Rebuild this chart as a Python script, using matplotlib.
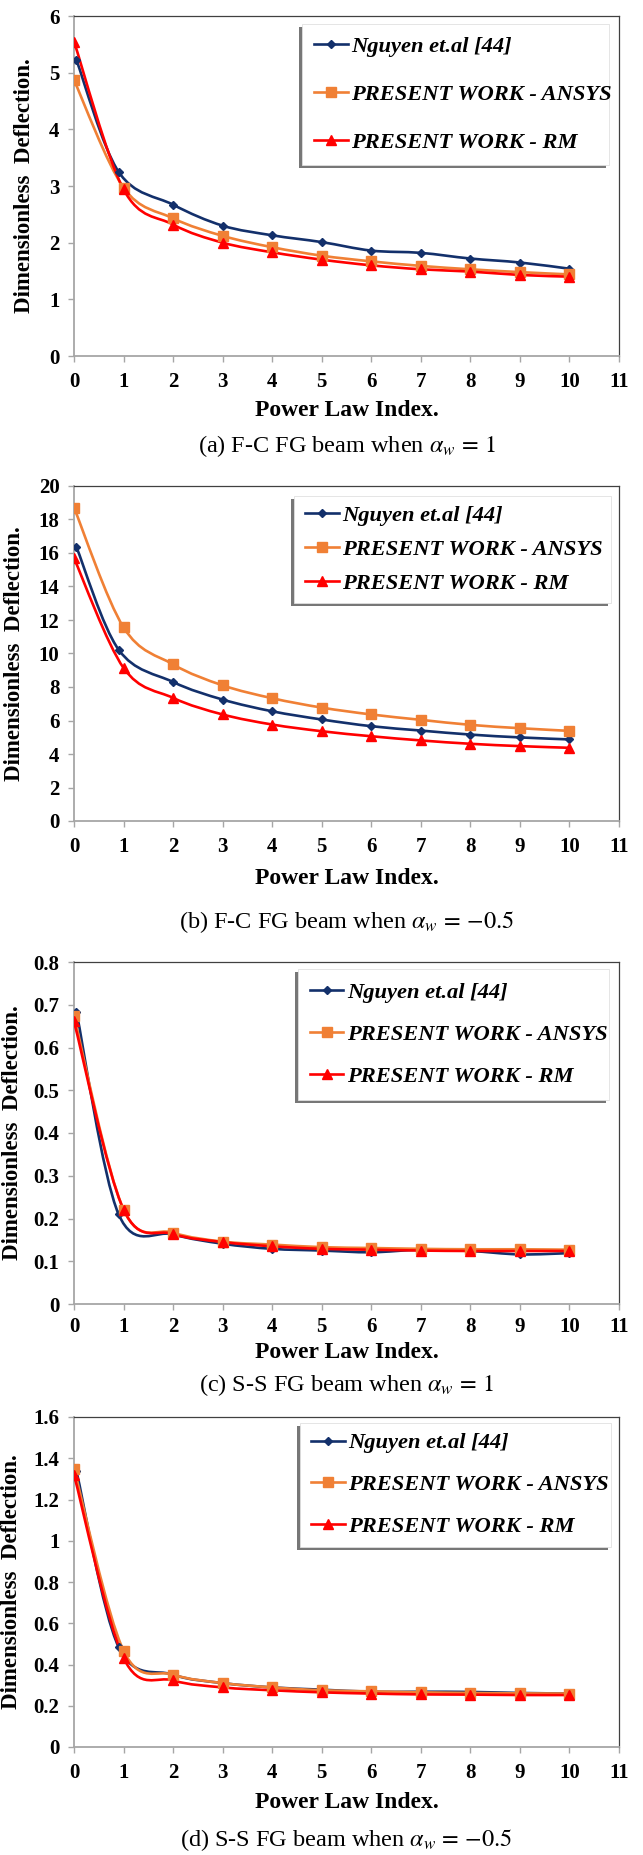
import numpy as np
import matplotlib
matplotlib.use("Agg")
import matplotlib.pyplot as plt
from matplotlib.path import Path
from matplotlib.patches import PathPatch, Rectangle
from matplotlib.lines import Line2D
from matplotlib.transforms import ScaledTranslation

# power law index
p = [0, 1, 2, 3, 4, 5, 6, 7, 8, 9, 10]
p_nguyen = [0.05, 0.9, 2, 3, 4, 5, 6, 7, 8, 9, 10]

# (a) F-C, alpha_w = 1
a_nguyen = [5.22, 3.25, 2.67, 2.30, 2.13, 2.01, 1.86, 1.82, 1.72, 1.65, 1.54]
a_ansys = [4.87, 2.97, 2.43, 2.12, 1.92, 1.77, 1.67, 1.59, 1.53, 1.48, 1.44]
a_rm = [5.55, 2.94, 2.32, 2.00, 1.83, 1.70, 1.60, 1.53, 1.49, 1.43, 1.40]

# (b) F-C, alpha_w = -0.5
b_nguyen = [16.35, 10.23, 8.30, 7.25, 6.55, 6.06, 5.66, 5.40, 5.16, 4.99, 4.87]
b_ansys = [18.71, 11.56, 9.35, 8.10, 7.33, 6.77, 6.36, 6.04, 5.74, 5.54, 5.38]
b_rm = [15.69, 9.14, 7.35, 6.36, 5.76, 5.36, 5.06, 4.81, 4.61, 4.47, 4.37]

# (c) S-S, alpha_w = 1
c_nguyen = [0.683, 0.210, 0.163, 0.141, 0.129, 0.125, 0.121, 0.127, 0.124, 0.116, 0.119]
c_ansys = [0.673, 0.221, 0.167, 0.146, 0.139, 0.133, 0.131, 0.129, 0.128, 0.128, 0.127]
c_rm = [0.661, 0.221, 0.164, 0.145, 0.135, 0.129, 0.127, 0.125, 0.124, 0.124, 0.124]

# (d) S-S, alpha_w = -0.5
d_nguyen = [1.337, 0.485, 0.351, 0.310, 0.289, 0.278, 0.268, 0.268, 0.267, 0.262, 0.259]
d_ansys = [1.350, 0.467, 0.351, 0.310, 0.289, 0.275, 0.270, 0.265, 0.262, 0.260, 0.259]
d_rm = [1.320, 0.432, 0.323, 0.289, 0.275, 0.265, 0.259, 0.255, 0.254, 0.252, 0.252]

labels = ["Nguyen et.al [44]", "PRESENT WORK - ANSYS", "PRESENT WORK - RM"]
captions = [r"(a) F-C FG beam when $\alpha_w\,=\,1$",
            r"(b) F-C FG beam when $\alpha_w\,=\,{-}0.5$",
            r"(c) S-S FG beam when $\alpha_w\,=\,1$",
            r"(d) S-S FG beam when $\alpha_w\,=\,{-}0.5$"]
ymaxs = [6, 20, 0.8, 1.6]
ysteps = [1, 2, 0.1, 0.2]
ytick_fmt = ["{:.0f}", "{:.0f}", "{:g}", "{:g}"]

NAVY = "#13306B"
ORANGE = "#F08035"
RED = "#FF0000"

plt.rcParams["font.family"] = ["Liberation Serif", "DejaVu Serif"]
plt.rcParams["mathtext.fontset"] = "stix"

W, H = 643, 1855
fig = plt.figure(figsize=(W / 100, H / 100), dpi=100)

# pixel layout (top, bottom of axes, xlabel y, caption y, legend box)
tops = [16, 486, 962, 1417]
bottoms = [356, 821, 1304, 1747]
xlab_y = [411, 878, 1353, 1802]
cap_y = [446, 922, 1385, 1840]
xpad = [7, 7, 5, 7]
leg_box = [(0.419, 0.562, 0.981, 0.976),
           (0.403, 0.650, 0.986, 0.970),
           (0.411, 0.597, 0.981, 0.980),
           (0.414, 0.606, 0.985, 0.982)]
leg_space = [1.2, 0.6, 0.95, 0.94]
ylab_x = [-0.072, -0.090, -0.094, -0.096]
L, R = 74, 619


def smooth_path(xs, ys):
    # excel-like smoothed line: cubic bezier through the points
    pts = np.column_stack([xs, ys]).astype(float)
    n = len(pts)
    verts = [pts[0]]
    codes = [Path.MOVETO]
    for i in range(n - 1):
        p0 = pts[max(i - 1, 0)]
        p1 = pts[i]
        p2 = pts[i + 1]
        p3 = pts[min(i + 2, n - 1)]
        verts += [p1 + (p2 - p0) / 6, p2 - (p3 - p1) / 6, p2]
        codes += [Path.CURVE4] * 3
    return Path(verts, codes)


panels = [(a_nguyen, a_ansys, a_rm), (b_nguyen, b_ansys, b_rm),
          (c_nguyen, c_ansys, c_rm), (d_nguyen, d_ansys, d_rm)]

for k, (ng, an, rm) in enumerate(panels):
    ax = fig.add_axes([L / W, 1 - bottoms[k] / H, (R - L) / W, (bottoms[k] - tops[k]) / H])

    series = [(p_nguyen, ng, NAVY, "D", 4.0), (p, an, ORANGE, "s", 6.5), (p, rm, RED, "^", 6.5)]
    for xs, ys, col, mk, ms in series:
        ax.add_patch(PathPatch(smooth_path(xs, ys), facecolor="none", edgecolor=col, lw=1.9, zorder=3))
        ax.plot(xs, ys, ls="none", marker=mk, ms=ms, color=col, zorder=4)

    ax.set_xlim(0, 11)
    ax.set_ylim(0, ymaxs[k])
    ax.set_xticks(range(12))
    yt = np.arange(0, ymaxs[k] + ysteps[k] / 2, ysteps[k])
    ax.set_yticks(yt)
    ax.set_yticklabels([ytick_fmt[k].format(v) for v in yt])

    for s in ["left", "bottom"]:
        ax.spines[s].set_color("#A6A6A6")
        ax.spines[s].set_linewidth(1.3)
    for s in ["top", "right"]:
        ax.spines[s].set_color("#404040")
        ax.spines[s].set_linewidth(0.9)
    ax.tick_params(axis="both", direction="out", length=4.5, width=1.0, color="#A6A6A6",
                   labelsize=15)
    ax.tick_params(axis="x", pad=xpad[k])
    ax.tick_params(axis="y", pad=6)
    for t in ax.get_xticklabels() + ax.get_yticklabels():
        t.set_fontweight("bold")

    ax.set_ylabel("Dimensionless  Deflection.", fontsize=16.5, fontweight="bold")
    ax.yaxis.set_label_coords(ylab_x[k], 0.5)
    fig.text(0.5 * (L + R) / W, 1 - xlab_y[k] / H, "Power Law Index.", fontsize=17,
             fontweight="bold", ha="center", va="center")
    fig.text(0.5 * (L + R) / W, 1 - cap_y[k] / H, captions[k], fontsize=17.5,
             ha="center", va="center")

    # legend box with shadow on the lower left
    x0, y0, x1, y1 = leg_box[k]
    shadow_tr = ax.transAxes + ScaledTranslation(-3 / 100, -3 / 100, fig.dpi_scale_trans)
    ax.add_patch(Rectangle((x0, y0), x1 - x0, y1 - y0, transform=shadow_tr,
                           facecolor="#555555", edgecolor="none", alpha=0.8, zorder=5))
    ax.add_patch(Rectangle((x0, y0), x1 - x0, y1 - y0, transform=ax.transAxes,
                           facecolor="white", edgecolor="#E0E0E0", lw=0.6, zorder=6))
    handles = [Line2D([], [], color=c, lw=1.9, marker=m, ms=s) for _, _, c, m, s in series]
    leg = ax.legend(handles, labels, loc="center left", bbox_to_anchor=(x0 + 0.005, 0.5 * (y0 + y1)),
                    frameon=False, handlelength=1.5, handletextpad=0.15, labelspacing=leg_space[k],
                    borderaxespad=0, prop={"size": 16.2, "weight": "bold", "style": "italic"})
    leg.set_zorder(7)

fig.savefig("out.png", dpi=100)
